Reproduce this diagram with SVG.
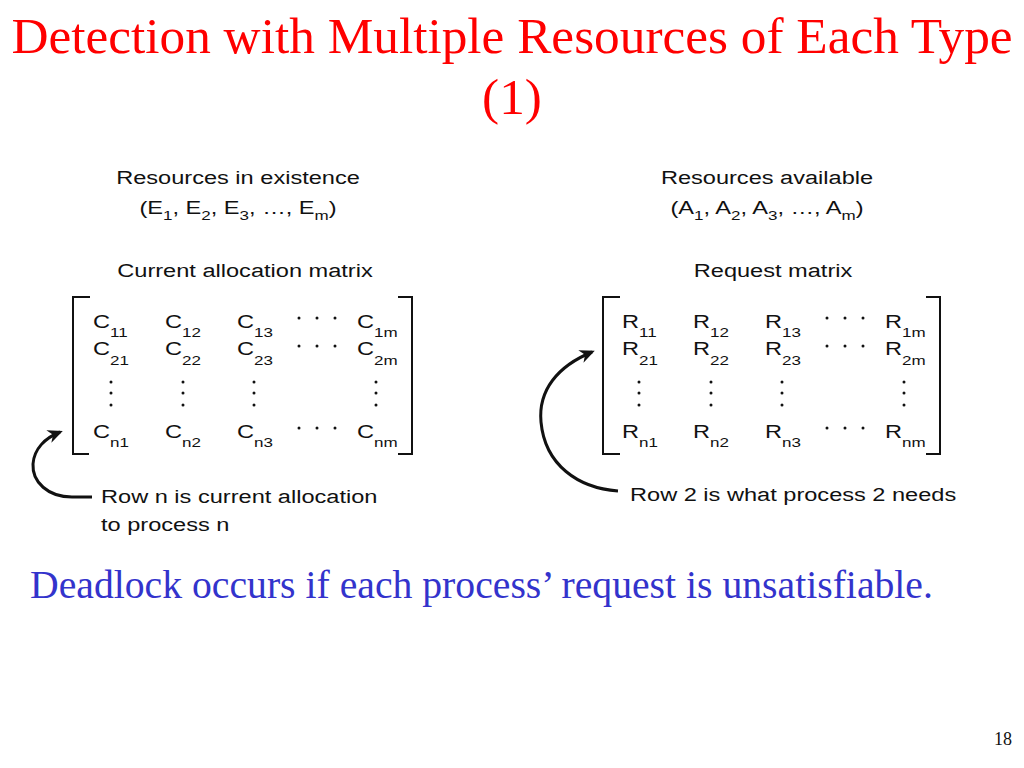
<svg xmlns="http://www.w3.org/2000/svg" width="1024" height="768" viewBox="0 0 1024 768">
<style>
.t{font-family:"Liberation Serif","Times New Roman",serif;fill:#ff0000;font-size:51.3px}
.s{font-family:"Liberation Sans",Arial,sans-serif;fill:#111;font-size:18px}
.sub{font-size:13px}
.br{fill:none;stroke:#111;stroke-width:2}
.arr{fill:none;stroke:#111;stroke-width:3}
.b{font-family:"Liberation Serif","Times New Roman",serif;fill:#3333cc;font-size:39.7px}
.pg{font-family:"Liberation Serif","Times New Roman",serif;fill:#111;font-size:18px}
</style>
<defs>
<marker id="ah" viewBox="0 0 10 10" refX="8" refY="5" markerWidth="5" markerHeight="5" orient="auto" markerUnits="strokeWidth">
<path d="M0,0.5 L10,5 L0,9.5 L3,5 Z" fill="#111"/>
</marker>
</defs>
<rect width="1024" height="768" fill="#fff"/>
<g id="title">
<text class="t" x="512" y="53" text-anchor="middle">Detection with Multiple Resources of Each Type</text>
<text class="t" x="512" y="114" text-anchor="middle">(1)</text>
</g>
<g id="existence" class="s">
<text transform="translate(238,184) scale(1.31,1)" text-anchor="middle">Resources in existence</text>
<text transform="translate(238,214) scale(1.31,1)" text-anchor="middle">(E<tspan class="sub" dy="6">1</tspan><tspan dy="-6">, E</tspan><tspan class="sub" dy="6">2</tspan><tspan dy="-6">, E</tspan><tspan class="sub" dy="6">3</tspan><tspan dy="-6">, …, E</tspan><tspan class="sub" dy="6">m</tspan><tspan dy="-6">)</tspan></text>
</g>
<g id="available" class="s">
<text transform="translate(767,184) scale(1.31,1)" text-anchor="middle">Resources available</text>
<text transform="translate(767,214) scale(1.31,1)" text-anchor="middle">(A<tspan class="sub" dy="6">1</tspan><tspan dy="-6">, A</tspan><tspan class="sub" dy="6">2</tspan><tspan dy="-6">, A</tspan><tspan class="sub" dy="6">3</tspan><tspan dy="-6">, …, A</tspan><tspan class="sub" dy="6">m</tspan><tspan dy="-6">)</tspan></text>
</g>
<g id="alloc-matrix">
<text class="s" transform="translate(245,277) scale(1.31,1)" text-anchor="middle">Current allocation matrix</text>
<path class="br" d="M90,297 H73 V454 H89"/>
<path class="br" d="M398,297 H412 V454 H398"/>
<g class="s">
<text transform="translate(93,328) scale(1.31,1)">C<tspan class="sub" dy="9">11</tspan></text>
<text transform="translate(165,328) scale(1.31,1)">C<tspan class="sub" dy="9">12</tspan></text>
<text transform="translate(237,328) scale(1.31,1)">C<tspan class="sub" dy="9">13</tspan></text>
<text transform="translate(357,328) scale(1.31,1)">C<tspan class="sub" dy="9">1m</tspan></text>
<text transform="translate(93,355) scale(1.31,1)">C<tspan class="sub" dy="10">21</tspan></text>
<text transform="translate(165,355) scale(1.31,1)">C<tspan class="sub" dy="10">22</tspan></text>
<text transform="translate(237,355) scale(1.31,1)">C<tspan class="sub" dy="10">23</tspan></text>
<text transform="translate(357,355) scale(1.31,1)">C<tspan class="sub" dy="10">2m</tspan></text>
<text transform="translate(93,438) scale(1.31,1)">C<tspan class="sub" dy="9">n1</tspan></text>
<text transform="translate(165,438) scale(1.31,1)">C<tspan class="sub" dy="9">n2</tspan></text>
<text transform="translate(237,438) scale(1.31,1)">C<tspan class="sub" dy="9">n3</tspan></text>
<text transform="translate(357,438) scale(1.31,1)">C<tspan class="sub" dy="9">nm</tspan></text>
</g>
<g fill="#111">
<circle cx="299" cy="318" r="1.5"/><circle cx="317" cy="318" r="1.5"/><circle cx="335" cy="318" r="1.5"/>
<circle cx="299" cy="346" r="1.5"/><circle cx="317" cy="346" r="1.5"/><circle cx="335" cy="346" r="1.5"/>
<circle cx="299" cy="428" r="1.5"/><circle cx="317" cy="428" r="1.5"/><circle cx="335" cy="428" r="1.5"/>
<circle cx="111" cy="382" r="1.5"/><circle cx="111" cy="393" r="1.5"/><circle cx="111" cy="405" r="1.5"/>
<circle cx="183" cy="382" r="1.5"/><circle cx="183" cy="393" r="1.5"/><circle cx="183" cy="405" r="1.5"/>
<circle cx="254" cy="382" r="1.5"/><circle cx="254" cy="393" r="1.5"/><circle cx="254" cy="405" r="1.5"/>
<circle cx="376" cy="382" r="1.5"/><circle cx="376" cy="393" r="1.5"/><circle cx="376" cy="405" r="1.5"/>
</g>
</g>
<g id="request-matrix">
<text class="s" transform="translate(773,277) scale(1.31,1)" text-anchor="middle">Request matrix</text>
<path class="br" d="M620,297 H603 V454 H620"/>
<path class="br" d="M926,297 H940 V454 H926"/>
<g class="s">
<text transform="translate(622,328) scale(1.31,1)">R<tspan class="sub" dy="9">11</tspan></text>
<text transform="translate(693,328) scale(1.31,1)">R<tspan class="sub" dy="9">12</tspan></text>
<text transform="translate(765,328) scale(1.31,1)">R<tspan class="sub" dy="9">13</tspan></text>
<text transform="translate(885,328) scale(1.31,1)">R<tspan class="sub" dy="9">1m</tspan></text>
<text transform="translate(622,355) scale(1.31,1)">R<tspan class="sub" dy="10">21</tspan></text>
<text transform="translate(693,355) scale(1.31,1)">R<tspan class="sub" dy="10">22</tspan></text>
<text transform="translate(765,355) scale(1.31,1)">R<tspan class="sub" dy="10">23</tspan></text>
<text transform="translate(885,355) scale(1.31,1)">R<tspan class="sub" dy="10">2m</tspan></text>
<text transform="translate(622,438) scale(1.31,1)">R<tspan class="sub" dy="9">n1</tspan></text>
<text transform="translate(693,438) scale(1.31,1)">R<tspan class="sub" dy="9">n2</tspan></text>
<text transform="translate(765,438) scale(1.31,1)">R<tspan class="sub" dy="9">n3</tspan></text>
<text transform="translate(885,438) scale(1.31,1)">R<tspan class="sub" dy="9">nm</tspan></text>
</g>
<g fill="#111">
<circle cx="827" cy="318" r="1.5"/><circle cx="845" cy="318" r="1.5"/><circle cx="863" cy="318" r="1.5"/>
<circle cx="827" cy="346" r="1.5"/><circle cx="845" cy="346" r="1.5"/><circle cx="863" cy="346" r="1.5"/>
<circle cx="827" cy="428" r="1.5"/><circle cx="845" cy="428" r="1.5"/><circle cx="863" cy="428" r="1.5"/>
<circle cx="639" cy="382" r="1.5"/><circle cx="639" cy="393" r="1.5"/><circle cx="639" cy="405" r="1.5"/>
<circle cx="711" cy="382" r="1.5"/><circle cx="711" cy="393" r="1.5"/><circle cx="711" cy="405" r="1.5"/>
<circle cx="782" cy="382" r="1.5"/><circle cx="782" cy="393" r="1.5"/><circle cx="782" cy="405" r="1.5"/>
<circle cx="904" cy="382" r="1.5"/><circle cx="904" cy="393" r="1.5"/><circle cx="904" cy="405" r="1.5"/>
</g>
</g>
<g id="note-alloc" class="s">
<text transform="translate(101,503) scale(1.31,1)">Row n is current allocation</text>
<text transform="translate(101,531) scale(1.31,1)">to process n</text>
</g>
<g id="note-request" class="s">
<text transform="translate(630,501) scale(1.31,1)">Row 2 is what process 2 needs</text>
</g>
<g id="connectors">
<path class="arr" marker-end="url(#ah)" d="M92,497 H72 C48,497 32,482 33,464 C34,449 45,438 60,432"/>
<path class="arr" marker-end="url(#ah)" d="M618,491 C578,488 545,465 541,422 C538,390 558,366 592,352"/>
</g>
<text class="b" x="30" y="598">Deadlock occurs if each process’ request is unsatisfiable.</text>
<text class="pg" x="1012" y="745" text-anchor="end">18</text>
</svg>
